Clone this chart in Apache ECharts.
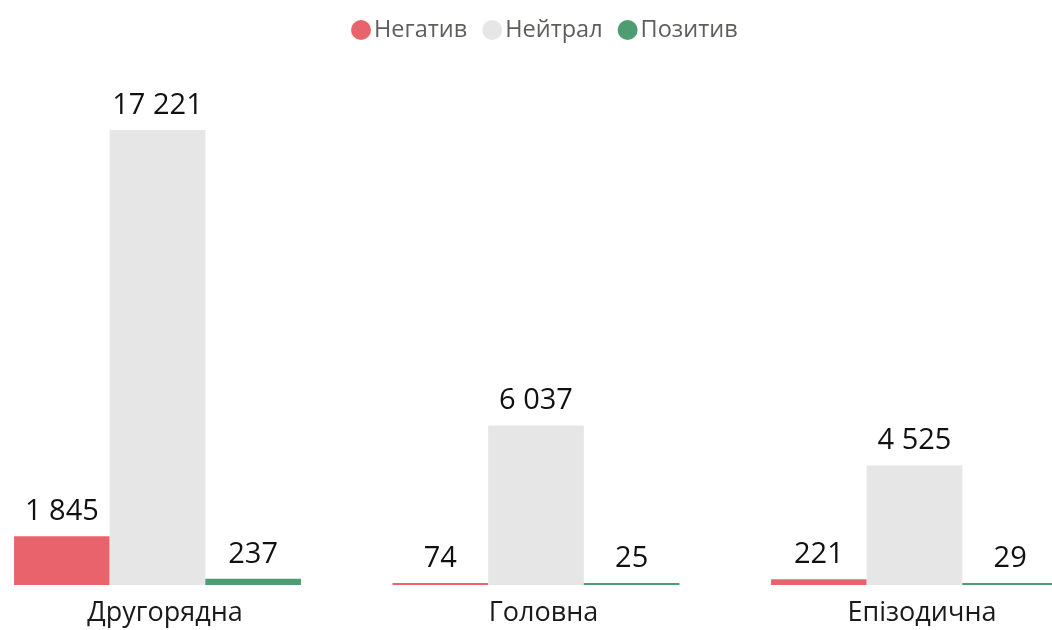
<!DOCTYPE html>
<html>
<head>
<meta charset="utf-8">
<script src="https://cdn.jsdelivr.net/npm/echarts@6/dist/echarts.min.js"></script>
<style>
html, body { margin: 0; padding: 0; background: #fff; }
#chart { width: 1052px; height: 630px; }
</style>
</head>
<body>
<div id="chart"></div>
<script>
const categories = ['Другорядна', 'Головна', 'Епізодична'];
const seriesNames = ['Негатив', 'Нейтрал', 'Позитив'];
const negative = [1845, 74, 221];
const neutral = [17221, 6037, 4525];
const positive = [237, 25, 29];
const colors = ['#E8636B', '#E6E6E6', '#4E9D72'];

const fontFamily = '"Open Sans", "Noto Sans", sans-serif';
const fmt = v => String(v).replace(/\B(?=(\d{3})+(?!\d))/g, ' ');

const makeSeries = (name, data, color) => ({
    name: name,
    type: 'bar',
    data: data,
    barGap: 0,
    barCategoryGap: '24.2%',
    barMinHeight: 2,
    itemStyle: { color: color },
    label: {
        show: true,
        position: 'top',
        distance: 10,
        color: '#111',
        fontSize: 29,
        fontFamily: fontFamily,
        formatter: p => fmt(p.value)
    },
    animation: false
});

const chart = echarts.init(document.getElementById('chart'));
chart.setOption({
    color: colors,
    legend: {
        top: 13,
        left: 346,
        icon: 'circle',
        itemWidth: 20,
        itemHeight: 20,
        itemGap: 15,
        textStyle: { color: '#605E5C', fontSize: 23.5, fontFamily: fontFamily, padding: [0, 0, 0, -2] },
        data: seriesNames
    },
    grid: {
        left: -31.75,
        width: 1135.5,
        top: 130,
        bottom: 45,
        outerBoundsMode: 'none',
        containLabel: false
    },
    xAxis: {
        type: 'category',
        data: categories,
        axisLine: { show: false },
        axisTick: { show: false },
        axisLabel: {
            color: '#1a1a1a',
            fontSize: 27,
            fontFamily: fontFamily,
            margin: 15,
            padding: [0, 0, 0, 15]
        }
    },
    yAxis: {
        type: 'value',
        min: 0,
        max: 'dataMax',
        show: false,
        splitLine: { show: false }
    },
    series: [
        makeSeries(seriesNames[0], negative, colors[0]),
        makeSeries(seriesNames[1], neutral, colors[1]),
        makeSeries(seriesNames[2], positive, colors[2])
    ]
});
</script>
</body>
</html>
